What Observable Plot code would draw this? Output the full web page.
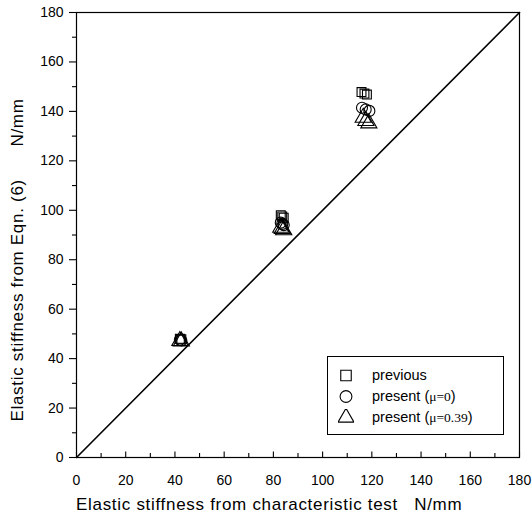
<!DOCTYPE html>
<html>
<head>
<meta charset="utf-8">
<script src="https://cdn.jsdelivr.net/npm/d3@7"></script>
<script src="https://cdn.jsdelivr.net/npm/@observablehq/plot@0.6"></script>
<style>
  body { margin: 0; background: #fff; }
  #wrap { position: relative; width: 532px; height: 519px; font-family: "Liberation Sans", Arial, sans-serif; }
  #wrap svg text { white-space: pre; }
  .lab { position: absolute; font-size: 17px; letter-spacing: 0.7px; white-space: pre; color: #000; }
  #legend { position: absolute; left: 327px; top: 356px; width: 177px; height: 79px; border: 1px solid #000; box-sizing: border-box; background: #fff; font-size: 14.5px; color: #000; }
  #legend .row { position: absolute; left: 10px; height: 20px; display: flex; align-items: center; }
  #legend .row > .txt { margin-left: 18px; }
  .ser { font-family: "Liberation Serif", "Times New Roman", serif; font-size: 13.5px; }
</style>
</head>
<body>
<div id="wrap"></div>
<script>
// Data
const previous = [[42,48],[42.6,47.8],[83,98],[83.6,97.5],[84.2,97],[115.8,147.8],[117,147.2],[118,146.8]];
const presentMu0 = [[42,47.6],[42.6,47.3],[83,95],[83.6,94.5],[84.2,94],[116,141.5],[117.5,140.8],[119,140.2]];
const presentMu039 = [[42,47.2],[42.6,47],[83,93],[83.6,92.5],[84.2,92],[116.5,137.5],[117.6,136.2],[118.8,135.2]];
const diagonal = [[0,0],[180,180]];
const majorTicks = d3.range(0, 181, 20);
const minorTicks = d3.range(10, 180, 20);

const xLabel = "Elastic stiffness from characteristic test   N/mm";
const yLabel = "Elastic stiffness from Eqn. (6)      N/mm";

const sym = (data, symbol, r) => Plot.dot(data, {x: d => d[0], y: d => d[1], symbol, r, stroke: "#000", strokeWidth: 1.1, fill: "none"});

const chart = Plot.plot({
  width: 532,
  height: 519,
  marginLeft: 76,
  marginRight: 13,
  marginTop: 12,
  marginBottom: 62,
  style: {fontFamily: "Liberation Sans, Arial, sans-serif", fontSize: "14px", color: "#000", background: "#fff"},
  x: {domain: [0, 180]},
  y: {domain: [0, 180]},
  marks: [
    Plot.frame({stroke: "#000", strokeWidth: 1.2}),
    Plot.line(diagonal, {x: d => d[0], y: d => d[1], stroke: "#000", strokeWidth: 1.6}),
    // x-axis: ticks pointing inward
    Plot.ruleX(majorTicks, {x: d => d, y1: 0, y2: 2.2, stroke: "#000", strokeWidth: 1.1}),
    Plot.ruleX(minorTicks, {x: d => d, y1: 0, y2: 1.6, stroke: "#000", strokeWidth: 1.1}),
    Plot.axisX(majorTicks, {tickSize: 0, tickPadding: 18, fontSize: 14, label: null}),
    // y-axis: ticks pointing outward
    Plot.axisY(majorTicks, {tickSize: 7, tickPadding: 6, fontSize: 14, label: null, strokeWidth: 1.1}),
    Plot.axisY(minorTicks, {tickSize: 4, tickFormat: () => "", label: null, strokeWidth: 1.1}),
    sym(previous, "square", 5),
    sym(presentMu0, "circle", 5.5),
    sym(presentMu039, "triangle", 6)
  ]
});

const wrap = document.getElementById("wrap");
wrap.appendChild(chart);

const xl = document.createElement("div");
xl.className = "lab";
xl.textContent = xLabel;
xl.style.left = "76px";
xl.style.top = "495px";
wrap.appendChild(xl);

const yl = document.createElement("div");
yl.className = "lab";
yl.textContent = yLabel;
yl.style.left = "8px";
yl.style.top = "260px";
yl.style.transformOrigin = "0 0";
yl.style.transform = "rotate(-90deg) translate(-50%, 0)";
wrap.appendChild(yl);

const legendItems = [
  {symbol: "square", html: "previous"},
  {symbol: "circle", html: 'present (<span class="ser">μ=0</span>)'},
  {symbol: "triangle", html: 'present (<span class="ser">μ=0.39</span>)'}
];
const lg = document.createElement("div");
lg.id = "legend";
legendItems.forEach((it, i) => {
  const row = document.createElement("div");
  row.className = "row";
  row.style.top = (8 + i * 21) + "px";
  const s = d3.create("svg").attr("width", 16).attr("height", 16);
  s.append("path").attr("transform", "translate(8,8.5)")
    .attr("d", d3.symbol(it.symbol === "square" ? d3.symbolSquare : it.symbol === "circle" ? d3.symbolCircle : d3.symbolTriangle, 110)())
    .attr("fill", "none").attr("stroke", "#000").attr("stroke-width", 1.1);
  row.appendChild(s.node());
  const t = document.createElement("span");
  t.className = "txt";
  t.innerHTML = it.html;
  row.appendChild(t);
  lg.appendChild(row);
});
wrap.appendChild(lg);
</script>
</body>
</html>
